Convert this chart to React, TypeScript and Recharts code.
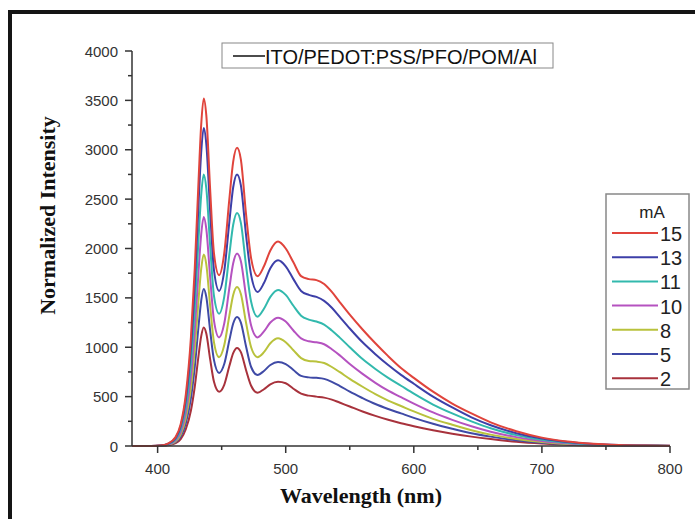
import { LineChart, Line, XAxis, YAxis } from 'recharts';

// wavelength grid (nm)
const wavelength = [
  380, 395, 402, 408, 414, 418, 422, 426, 429, 432, 434, 436, 438, 441, 444, 448, 452, 456,
  459, 462, 465, 469, 473, 478, 483, 488, 494, 500, 506, 512, 518, 524, 530, 536, 542, 550,
  560, 570, 580, 590, 600, 615, 630, 645, 660, 680, 700, 720, 740, 760, 780, 800,
];

// intensity per drive current (mA)
const i15 = [0, 0, 5, 25, 90, 220, 520, 1100, 1800, 2700, 3250, 3520, 3350, 2600, 1950, 1730, 1950, 2500, 2880, 3020, 2900, 2350, 1900, 1720, 1820, 1980, 2070, 2000, 1860, 1720, 1690, 1680, 1640, 1560, 1460, 1330, 1180, 1040, 910, 790, 690, 550, 430, 330, 240, 150, 85, 45, 22, 10, 4, 2];
const i13 = [0, 0, 4, 22, 80, 200, 470, 1000, 1640, 2470, 2970, 3220, 3060, 2380, 1780, 1570, 1770, 2270, 2620, 2750, 2640, 2140, 1730, 1560, 1650, 1800, 1880, 1820, 1690, 1570, 1530, 1510, 1470, 1400, 1310, 1190, 1050, 930, 820, 720, 630, 500, 390, 290, 210, 130, 75, 40, 20, 9, 4, 2];
const i11 = [0, 0, 3, 18, 68, 170, 400, 850, 1400, 2110, 2540, 2750, 2610, 2030, 1520, 1340, 1510, 1940, 2240, 2360, 2260, 1830, 1460, 1310, 1390, 1510, 1580, 1530, 1420, 1320, 1280, 1260, 1230, 1170, 1100, 1000, 880, 780, 690, 610, 530, 420, 330, 250, 180, 110, 62, 33, 16, 7, 3, 1];
const i10 = [0, 0, 3, 15, 56, 140, 335, 710, 1170, 1780, 2140, 2320, 2200, 1710, 1270, 1100, 1240, 1600, 1850, 1950, 1870, 1520, 1220, 1100, 1160, 1250, 1300, 1260, 1170, 1090, 1060, 1050, 1030, 980, 920, 830, 730, 640, 560, 495, 430, 340, 265, 200, 145, 90, 50, 26, 13, 6, 2, 1];
const i8 = [0, 0, 2, 12, 46, 115, 280, 590, 980, 1490, 1790, 1940, 1840, 1420, 1050, 900, 1020, 1320, 1530, 1610, 1540, 1250, 1000, 900, 950, 1040, 1090, 1050, 970, 890, 860, 855, 840, 800, 750, 680, 600, 525, 460, 405, 350, 275, 215, 160, 115, 72, 40, 21, 10, 5, 2, 1];
const i5 = [0, 0, 2, 10, 38, 95, 230, 485, 800, 1220, 1470, 1590, 1510, 1170, 870, 740, 830, 1070, 1240, 1306, 1250, 1010, 800, 720, 760, 820, 850, 830, 770, 710, 695, 690, 680, 650, 610, 550, 485, 425, 375, 330, 285, 225, 175, 130, 95, 58, 32, 17, 8, 4, 2, 1];
const i2 = [0, 0, 1, 7, 28, 70, 170, 360, 600, 920, 1110, 1200, 1140, 880, 650, 550, 620, 810, 940, 992, 950, 770, 610, 540, 575, 625, 650, 635, 580, 530, 510, 500, 490, 470, 440, 400, 350, 305, 265, 230, 200, 160, 125, 95, 70, 43, 25, 13, 6, 3, 1, 0];

const currents = ['15', '13', '11', '10', '8', '5', '2'];
const colors = ['#e0443c', '#3d3fa8', '#32b9ad', '#b552c0', '#b9c23c', '#3f4aa6', '#a8323c'];
const series = [i15, i13, i11, i10, i8, i5, i2];

const xTicks = [400, 450, 500, 550, 600, 650, 700, 750, 800];
const yTicks = [0, 250, 500, 750, 1000, 1250, 1500, 1750, 2000, 2250, 2500, 2750, 3000, 3250, 3500, 3750, 4000];

const data = wavelength.map((w, i) => {
  const row: Record<string, number> = { w };
  currents.forEach((c, k) => {
    row['mA' + c] = series[k][i];
  });
  return row;
});

const tickFont = { fontFamily: 'Arial, "Liberation Sans", sans-serif', fontSize: 15, fill: '#333' };
const titleFont = { fontFamily: '"Times New Roman", "Liberation Serif", serif', fontSize: 22, fontWeight: 700, fill: '#111' };

function XTick(props: any) {
  const { x, y, payload } = props;
  const major = payload.value % 100 === 0;
  return (
    <g>
      <line x1={x} x2={x} y1={y} y2={y + (major ? 7 : 4)} stroke="#333" strokeWidth={1.5} />
      {major && (
        <text x={x} y={y + 22} textAnchor="middle" dominantBaseline="central" {...tickFont}>
          {payload.value}
        </text>
      )}
    </g>
  );
}

function YTick(props: any) {
  const { x, y, payload } = props;
  const major = payload.value % 500 === 0;
  return (
    <g>
      <line x1={x - (major ? 7 : 4)} x2={x} y1={y} y2={y} stroke="#333" strokeWidth={1.5} />
      {major && (
        <text x={x - 14} y={y} textAnchor="end" dominantBaseline="central" {...tickFont}>
          {payload.value}
        </text>
      )}
    </g>
  );
}

function XTitle(props: any) {
  const vb = props.viewBox;
  return (
    <text x={vb.x + vb.width / 2 - 40} y={vb.y + 57} textAnchor="middle" {...titleFont}>
      Wavelength (nm)
    </text>
  );
}

function YTitle(props: any) {
  const vb = props.viewBox;
  const cx = 47;
  const cy = vb.y + vb.height / 2 - 33;
  return (
    <text x={cx} y={cy} textAnchor="middle" dominantBaseline="central" transform={`rotate(-90 ${cx} ${cy})`} {...titleFont}>
      Normalized Intensity
    </text>
  );
}

function CurrentLegend() {
  return (
    <svg width={85} height={197} style={{ position: 'absolute', left: 605, top: 193 }}>
      <rect x={1} y={1} width={83} height={195} fill="#fff" stroke="#888" strokeWidth={1.5} />
      <text x={47} y={19} textAnchor="middle" dominantBaseline="central" fontFamily='Arial, "Liberation Sans", sans-serif' fontSize={17} fill="#222">
        mA
      </text>
      {currents.map((c, k) => (
        <g key={c}>
          <line x1={7} x2={53} y1={40 + k * 24.2} y2={40 + k * 24.2} stroke={colors[k]} strokeWidth={2} />
          <text x={55} y={41 + k * 24.2} dominantBaseline="central" fontFamily='Arial, "Liberation Sans", sans-serif' fontSize={20} fill="#222">
            {c}
          </text>
        </g>
      ))}
    </svg>
  );
}

function DeviceLegend() {
  return (
    <svg width={333} height={27} style={{ position: 'absolute', left: 221, top: 42 }}>
      <rect x={1} y={1} width={331} height={25} fill="#fff" stroke="#888" strokeWidth={1} />
      <line x1={12} x2={44} y1={14} y2={14} stroke="#111" strokeWidth={1.5} />
      <text x={44} y={15} dominantBaseline="central" fontFamily='Arial, "Liberation Sans", sans-serif' fontSize={20} fill="#111">
        ITO/PEDOT:PSS/PFO/POM/Al
      </text>
    </svg>
  );
}

export default function App() {
  return (
    <div style={{ position: 'fixed', left: 0, top: 0, width: 695, height: 519, background: '#fff', overflow: 'hidden' }}>
      <div style={{ position: 'absolute', left: 8, top: 10, width: 700, height: 520, borderLeft: '4px solid #151515', borderTop: '4px solid #151515', boxSizing: 'border-box' }} />
      <div style={{ position: 'absolute', left: 0, top: 0 }}>
        <LineChart width={695} height={519} data={data} margin={{ top: 51, right: 25, bottom: 0, left: 0 }}>
          <XAxis
            dataKey="w"
            type="number"
            domain={[380, 800]}
            ticks={xTicks}
            height={73}
            tickSize={0}
            tickMargin={0}
            tickLine={false}
            axisLine={{ stroke: '#333', strokeWidth: 1.5 }}
            tick={<XTick />}
            interval={0}
            label={<XTitle />}
          />
          <YAxis
            type="number"
            domain={[0, 4000]}
            ticks={yTicks}
            width={132}
            tickSize={0}
            tickMargin={0}
            tickLine={false}
            axisLine={{ stroke: '#333', strokeWidth: 1.5 }}
            tick={<YTick />}
            interval={0}
            label={<YTitle />}
          />
          {currents
            .map((c, k) => (
              <Line
                key={c}
                dataKey={'mA' + c}
                type="monotone"
                stroke={colors[k]}
                strokeWidth={2}
                dot={false}
                isAnimationActive={false}
              />
            ))
            .reverse()}
        </LineChart>
      </div>
      <DeviceLegend />
      <CurrentLegend />
    </div>
  );
}
